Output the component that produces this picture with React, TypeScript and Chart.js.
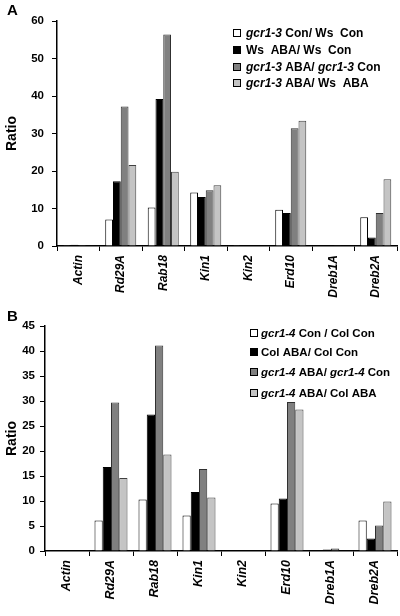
import React, { useEffect, useRef } from "react";
import { Chart, registerables } from "chart.js";
Chart.register(...registerables);

const FONT = '"Liberation Sans", Arial, Helvetica, sans-serif';

const categories = ["Actin", "Rd29A", "Rab18", "Kin1", "Kin2", "Erd10", "Dreb1A", "Dreb2A"];

// Panel A (gcr1-3 / Ws)
const a_gcrCon_WsCon = [0.05, 7.1, 10.3, 14.3, 0.05, 9.7, 0.1, 7.7];
const a_WsABA_WsCon = [0.35, 17.3, 39.2, 13.1, 0.05, 8.8, 0.05, 2.3];
const a_gcrABA_gcrCon = [0.25, 37.2, 56.4, 14.9, 0.15, 31.4, 0.05, 8.8];
const a_gcrABA_WsABA = [0.1, 21.6, 19.8, 16.2, 0.15, 33.4, 0.15, 17.8];
const a_yTicksMax = 60;
const a_yStep = 10;

// Panel B (gcr1-4 / Col)
const b_gcrCon_ColCon = [0, 6.1, 10.3, 7.1, 0, 9.5, 0, 6.1];
const b_ColABA_ColCon = [0, 16.8, 27.3, 11.8, 0, 10.5, 0.3, 2.5];
const b_gcrABA_gcrCon = [0, 29.7, 41.1, 16.4, 0, 29.8, 0.5, 5.1];
const b_gcrABA_ColABA = [0, 14.6, 19.3, 10.7, 0, 28.3, 0, 9.9];
const b_yTicksMax = 45;
const b_yStep = 5;

// legend labels: [text, italic]
type Seg = [string, boolean];
const legendA: Seg[][] = [
  [["gcr1-3", true], [" Con/ Ws  Con", false]],
  [["Ws  ABA/ Ws  Con", false]],
  [["gcr1-3", true], [" ABA/ ", false], ["gcr1-3", true], [" Con", false]],
  [["gcr1-3", true], [" ABA/ Ws  ABA", false]],
];
const legendB: Seg[][] = [
  [["gcr1-4", true], [" Con / Col Con", false]],
  [["Col ABA/ Col Con", false]],
  [["gcr1-4", true], [" ABA/ ", false], ["gcr1-4", true], [" Con", false]],
  [["gcr1-4", true], [" ABA/ Col ABA", false]],
];

const fills = ["#ffffff", "#000000", "#808080", "#c4c4c4"];
const borders = ["#000000", "#000000", "#303030", "#404040"];

interface PanelProps {
  top: number;
  height: number;
  letter: string;
  letterY: number;
  series: number[][];
  yMax: number;
  yStep: number;
  axisLeft: number;
  plotTop: number;
  plotBottom: number;
  catPct: number;
  legend: Seg[][];
  legendX: number;
  legendTextX: number;
  legendYs: number[];
  legendSize: number;
  tickPad: number;
  xFontSize: number;
}

function Panel(p: PanelProps) {
  const ref = useRef<HTMLCanvasElement | null>(null);
  useEffect(() => {
    if (!ref.current) return;
    const custom = {
      id: "custom",
      afterDraw(chart: any) {
        const ctx = chart.ctx as CanvasRenderingContext2D;
        ctx.save();
        ctx.fillStyle = "#000";
        ctx.textBaseline = "middle";
        ctx.textAlign = "left";
        ctx.font = `bold 15px ${FONT}`;
        ctx.fillText(p.letter, 7, p.letterY);
        p.legend.forEach((segs, i) => {
          const y = p.legendYs[i];
          ctx.fillStyle = fills[i];
          ctx.fillRect(p.legendX, y - 4, 8, 8);
          ctx.strokeStyle = "#000";
          ctx.lineWidth = 1;
          ctx.strokeRect(p.legendX + 0.5, y - 3.5, 7, 7);
          let x = p.legendTextX;
          ctx.fillStyle = "#000";
          segs.forEach(([t, it]) => {
            ctx.font = `${it ? "italic " : ""}bold ${p.legendSize}px ${FONT}`;
            ctx.fillText(t, x, y + 0.5);
            x += ctx.measureText(t).width;
          });
        });
        ctx.restore();
      },
    };
    const chart = new Chart(ref.current, {
      type: "bar",
      data: {
        labels: categories,
        datasets: p.series.map((d, i) => ({
          label: "s" + i,
          data: d,
          backgroundColor: fills[i],
          borderColor: borders[i],
          borderWidth: 1,
          barPercentage: 1,
          categoryPercentage: p.catPct,
        })),
      },
      options: {
        animation: false,
        responsive: false,
        events: [],
        layout: { padding: { left: 0, right: 3, top: p.plotTop, bottom: 0 } },
        plugins: { legend: { display: false }, tooltip: { enabled: false } },
        scales: {
          x: {
            grid: {
              display: true,
              drawOnChartArea: false,
              drawTicks: true,
              tickLength: 5,
              color: "#000",
              offset: true,
            },
            border: { display: true, color: "#000", width: 1.5 },
            ticks: {
              autoSkip: false,
              maxRotation: 90,
              minRotation: 90,
              padding: 4,
              color: "#000",
              font: { family: FONT, size: p.xFontSize, weight: "bold", style: "italic" },
            },
            afterFit: (s: any) => {
              s.height = p.height - p.plotBottom;
            },
          },
          y: {
            min: 0,
            max: p.yMax,
            grid: {
              display: true,
              drawOnChartArea: false,
              drawTicks: true,
              tickLength: 5,
              color: "#000",
            },
            border: { display: true, color: "#000", width: 1.5 },
            ticks: {
              stepSize: p.yStep,
              padding: p.tickPad,
              color: "#000",
              font: { family: FONT, size: 11.5, weight: "bold" },
            },
            title: {
              display: true,
              text: "Ratio",
              color: "#000",
              font: { family: FONT, size: 14, weight: "bold" },
              padding: { top: 4, bottom: 4 },
            },
            afterFit: (s: any) => {
              s.width = p.axisLeft;
            },
          },
        },
      },
      plugins: [custom],
    } as any);
    return () => chart.destroy();
  }, []);
  return (
    <canvas
      ref={ref}
      width={400}
      height={p.height}
      style={{ position: "absolute", left: 0, top: p.top, width: 400, height: p.height }}
    />
  );
}

export default function App() {
  return (
    <div style={{ position: "fixed", left: 0, top: 0, width: 400, height: 616, background: "#fff", overflow: "hidden" }}>
      <Panel
        top={0}
        height={300}
        letter="A"
        letterY={11}
        series={[a_gcrCon_WsCon, a_WsABA_WsCon, a_gcrABA_gcrCon, a_gcrABA_WsABA]}
        yMax={a_yTicksMax}
        yStep={a_yStep}
        axisLeft={57}
        plotTop={21}
        plotBottom={246}
        catPct={0.73}
        legend={legendA}
        legendX={233}
        legendTextX={246}
        legendYs={[33, 50, 67, 83]}
        legendSize={12}
        tickPad={8}
        xFontSize={12}
      />
      <Panel
        top={300}
        height={316}
        letter="B"
        letterY={17}
        series={[b_gcrCon_ColCon, b_ColABA_ColCon, b_gcrABA_gcrCon, b_gcrABA_ColABA]}
        yMax={b_yTicksMax}
        yStep={b_yStep}
        axisLeft={45}
        plotTop={26}
        plotBottom={251}
        catPct={0.75}
        legend={legendB}
        legendX={250}
        legendTextX={261}
        legendYs={[33, 52, 72, 93]}
        legendSize={11.5}
        tickPad={5}
        xFontSize={12.5}
      />
    </div>
  );
}
